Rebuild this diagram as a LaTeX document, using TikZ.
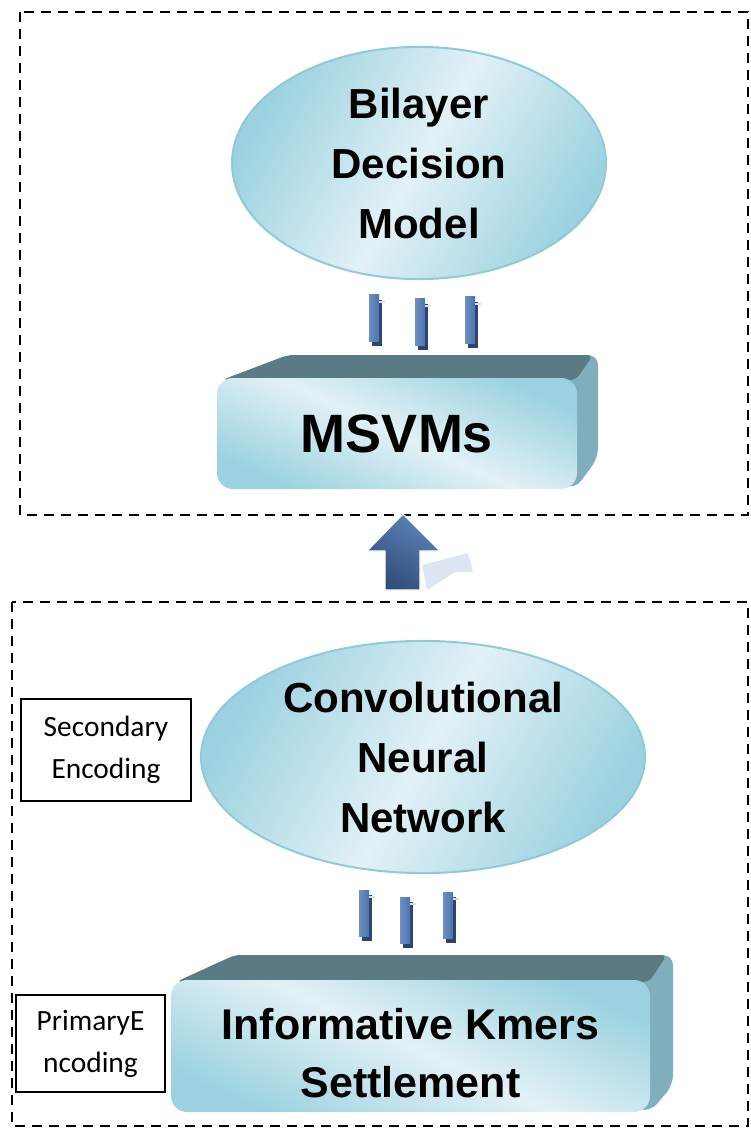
\documentclass[tikz,border=0pt]{standalone}
\usepackage{fontspec}
\setmainfont{Liberation Sans}
\newfontfamily\tagfont{Carlito}
\usetikzlibrary{shapes.geometric}

\definecolor{skydeep}{HTML}{9CD2E0}
\definecolor{skypale}{HTML}{E2F1F6}
\definecolor{skyrim}{HTML}{8FCADA}
\definecolor{slabtop}{HTML}{5B7B84}
\definecolor{slabside}{HTML}{7FAEBD}
\definecolor{barblue}{HTML}{4A74B0}
\definecolor{bardark}{HTML}{2C4570}
\definecolor{arrowtail}{HTML}{DCE6F2}

\begin{document}
\begin{tikzpicture}[x=0.5pt,y=-0.5pt,
  frame/.style={draw,line width=1pt,dash pattern=on 5pt off 3.5pt},
  blob/.style={ellipse,draw=skyrim,line width=1pt,align=center,
    top color=skydeep,bottom color=skydeep,middle color=skypale,shading angle=60},
  slab/.style={rounded corners=8pt,align=center,
    top color=skydeep,bottom color=skydeep,middle color=skypale,shading angle=-25},
  tag/.style={draw,line width=0.75pt,align=center,font=\tagfont\fontsize{14.7}{21}\selectfont},
  big/.style={font=\bfseries\fontsize{21}{30}\selectfont}]
  \useasboundingbox (0,0) rectangle (750,1128);

  % the two stages
  \draw[frame] (20,12) rectangle (748,515);
  \draw[frame] (12,602) rectangle (748,1126);

  % upper stage
  \node[blob,big,minimum width=187pt,minimum height=108pt] (bilayer) at (419,163)
    {Bilayer\\Decision\\Model};
  \fill[slabside,rounded corners=5pt] (222,380) -- (288,355) -- (598,355) -- (598,458) -- (575,489) -- cycle;
  \fill[slabtop,rounded corners=3pt] (222,380) -- (288,355) -- (593,355) -- (576,380) -- cycle;
  \node[slab,minimum width=180pt,minimum height=55.5pt] (msvm) at (397,433.5)
    {\bfseries\fontsize{27}{32}\selectfont MSVMs};
  \foreach \x/\y in {369/295,415/299,465/297}{
    \fill[bardark] (\x+3,\y+5) rectangle ++(10,46);
    \shade[left color=barblue!80!white,right color=barblue] (\x,\y) rectangle ++(10,46);
    \draw[black!12,line width=0.6pt] (\x+10,\y+7) -- ++(6,0);
  }

  % lift from the lower stage
  \fill[arrowtail] (422,565) -- (468,553) -- (473,572) -- (455,572) -- (427,590) -- cycle;
  \shade[top color=barblue!90!white,bottom color=bardark!85!barblue,shading angle=-30,
    draw=white,line width=0.6pt]
    (403,514) -- (440,551) -- (420,551) -- (420,590) -- (385,590) -- (385,551) -- (367,551) -- cycle;

  % lower stage
  \node[blob,big,minimum width=222pt,minimum height=112pt] (cnn) at (423,757)
    {Convolutional\\Neural\\Network};
  \fill[slabside,rounded corners=5pt] (176,982) -- (235,955) -- (673,955) -- (673,1085) -- (650,1112) -- cycle;
  \fill[slabtop,rounded corners=3pt] (176,982) -- (235,955) -- (667,955) -- (649,982) -- cycle;
  \node[slab,big,font=\bfseries\fontsize{21.5}{29}\selectfont,minimum width=239.5pt,minimum height=66pt]
    (kmers) at (410.5,1046) {\rule{0pt}{22.5pt}Informative Kmers\\Settlement};
  \foreach \x/\y in {359/890,400/897,443/892}{
    \fill[bardark] (\x+3,\y+5) rectangle ++(10,46);
    \shade[left color=barblue!80!white,right color=barblue] (\x,\y) rectangle ++(10,46);
    \draw[black!12,line width=0.6pt] (\x+10,\y+7) -- ++(6,0);
  }

  % encoding tags
  \node[tag,minimum width=85pt,minimum height=51pt] (second) at (106,750) {Secondary\\Encoding};
  \node[tag,minimum width=74.5pt,minimum height=48.5pt] (first) at (90.5,1043.5) {PrimaryE\\ncoding};
\end{tikzpicture}
\end{document}
